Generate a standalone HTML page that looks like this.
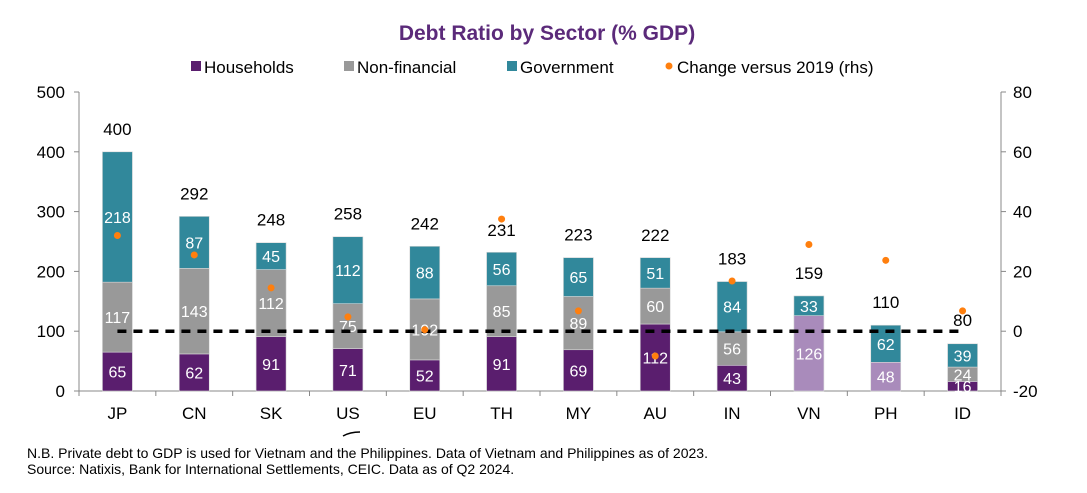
<!DOCTYPE html>
<html><head><meta charset="utf-8"><style>
body{margin:0;background:#fff;width:1087px;height:488px;overflow:hidden;font-family:"Liberation Sans",sans-serif}
</style></head><body>
<svg width="1087" height="488" font-family="Liberation Sans, sans-serif">
<text x="547" y="40" text-anchor="middle" font-size="21" font-weight="bold" fill="#5b2a7a">Debt Ratio by Sector (% GDP)</text>
<g id="legend" font-size="17">
<rect x="191" y="61" width="10" height="10" fill="#5a1e6e"/>
<text x="204" y="73">Households</text>
<rect x="344" y="61" width="10" height="10" fill="#999999"/>
<text x="357" y="73">Non-financial</text>
<rect x="507" y="61" width="10" height="10" fill="#31889b"/>
<text x="520" y="73">Government</text>
<circle cx="669" cy="66" r="3.5" fill="#ff7f0e"/>
<text x="677" y="73">Change versus 2019 (rhs)</text>
</g>
<g id="axes"></g>
<g id="bars"></g>
<g id="labels"></g>
<g id="dots"></g>
<text x="27" y="458" font-size="14">N.B. Private debt to GDP is used for Vietnam and the Philippines. Data of Vietnam and Philippines as of 2023.</text>
<text x="27" y="474" font-size="14">Source: Natixis, Bank for International Settlements, CEIC. Data as of Q2 2024.</text>
<path d="M343 436 Q350 432 360 432" stroke="#000" stroke-width="1.5" fill="none"/>
</svg>
<script>
const categories=["JP","CN","SK","US","EU","TH","MY","AU","IN","VN","PH","ID"];
const households=[65,62,91,71,52,91,69,112,43,126,48,16];
const nonFinancial=[117,143,112,75,102,85,89,60,56,0,0,24];
const government=[218,87,45,112,88,56,65,51,84,33,62,39];
const totals=[400,292,248,258,242,231,223,222,183,159,110,80];
const changeVs2019=[32,25.5,14.5,4.8,0.5,37.5,6.8,-8.3,16.8,29,23.7,6.8];
const privateDebtCats=["VN","PH"];
const leftTicks=[0,100,200,300,400,500];
const rightTicks=[-20,0,20,40,60,80];

const NS="http://www.w3.org/2000/svg";
const x0=79,x1=1001,yB=391,yT=92;
const step=(x1-x0)/categories.length;
const xc=i=>x0+step*(i+0.5);
const yL=v=>yB-(v/500)*(yB-yT);
const yR=v=>yB-((v+20)/100)*(yB-yT);
function mk(tag,attrs,parent){const e=document.createElementNS(NS,tag);for(const k in attrs)e.setAttribute(k,attrs[k]);document.getElementById(parent).appendChild(e);return e;}
let a=mk("line",{x1:x0,y1:yT,x2:x0,y2:yB,stroke:"#888"},"axes");


a=mk("line",{x1:x1,y1:yT,x2:x1,y2:yB,stroke:"#888"},"axes");


a=mk("line",{x1:x0,y1:yB,x2:x1,y2:yB,stroke:"#888"},"axes");


leftTicks.forEach(t=>{const y=yL(t);mk("line",{x1:x0-5,y1:y,x2:x0,y2:y,stroke:"#888"},"axes");
const tx=mk("text",{x:x0-14,y:y+6,"text-anchor":"end","font-size":"17"},"axes");tx.textContent=t;

});
rightTicks.forEach(t=>{const y=yR(t);mk("line",{x1:x1,y1:y,x2:x1+5,y2:y,stroke:"#888"},"axes");
const tx=mk("text",{x:x1+12,y:y+6,"font-size":"17"},"axes");tx.textContent=t;

});
for(let i=0;i<=categories.length;i++){mk("line",{x1:x0+step*i,y1:yB,x2:x0+step*i,y2:yB+5,stroke:"#888"},"axes");}
categories.forEach((c,i)=>{const tx=mk("text",{x:xc(i),y:yB+28,"text-anchor":"middle","font-size":"17"},"axes");tx.textContent=c;

});
const bw=30;
categories.forEach((c,i)=>{
 const priv=privateDebtCats.includes(c);
 const segs=[[households[i],priv?"#a98bbb":"#5a1e6e","households"],[nonFinancial[i],"#999999","nonfinancial"],[government[i],"#31889b","government"]];
 let base=0;
 segs.forEach(([v,col,nm])=>{if(v<=0)return;
  const yt=yL(base+v),yb=yL(base);
  const r=mk("rect",{x:xc(i)-bw/2,y:yt,width:bw,height:yb-yt,fill:col,stroke:"#d8d8d8","stroke-width":"0.6"},"bars");
  
  
  const t=mk("text",{x:xc(i),y:(yt+yb)/2+6,"text-anchor":"middle","font-size":"16",fill:"#fff"},"labels");t.textContent=v;
  
  
  base+=v;});
 const tt=mk("text",{x:xc(i),y:yL(totals[i])-17,"text-anchor":"middle","font-size":"17"},"labels");tt.textContent=totals[i];
 
 
});
const zl=mk("line",{x1:xc(0),y1:yR(0),x2:xc(categories.length-1),y2:yR(0),stroke:"#000","stroke-width":"3.5","stroke-dasharray":"9,7"},"dots");


changeVs2019.forEach((v,i)=>{const d=mk("circle",{cx:xc(i),cy:yR(v),r:3.5,fill:"#ff7f0e"},"dots");

});
</script>
</body></html>
